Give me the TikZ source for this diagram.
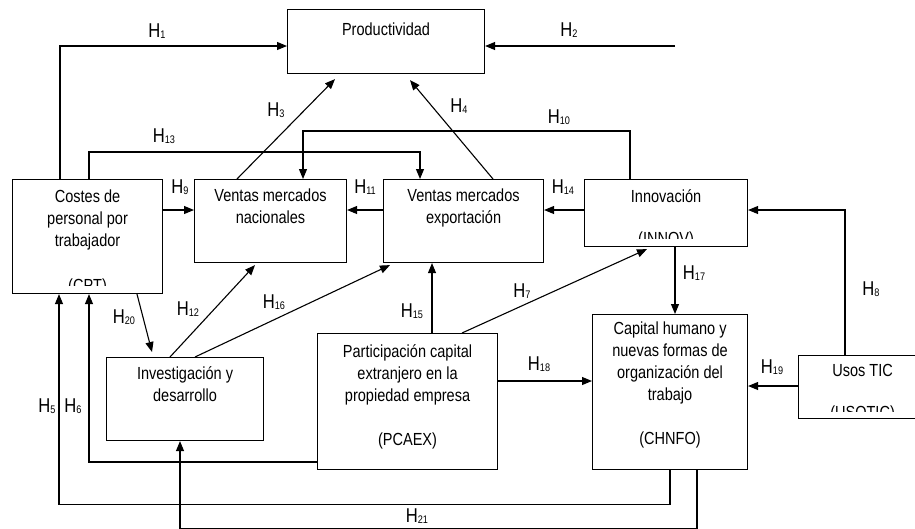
\documentclass[tikz,border=0pt]{standalone}
\usepackage{fontspec}
\setmainfont[FakeStretch=0.83]{Liberation Sans}
\usetikzlibrary{arrows.meta,calc}
\newcommand\Hlab[1]{H\raisebox{-1.5pt}{\fontsize{11}{11}\selectfont #1}}
\begin{document}
\begin{tikzpicture}[x=1pt,y=-1pt,
 box/.style={draw,line width=1.1pt,inner sep=0pt,anchor=north west},
 txt/.style={anchor=north,inner sep=0pt,align=center,font=\fontsize{17.5}{22}\selectfont},
 lab/.style={inner sep=0pt,font=\fontsize{20}{20}\selectfont},
 con/.style={line width=1.1pt},
 arr/.style={con,-{Triangle[length=10pt,width=8pt]}}]
\path[use as bounding box] (0,0) rectangle (915,528);
\clip (0,0) rectangle (915,528);
% boxes
\node[box,minimum width=197pt,minimum height=64pt] (prod) at (287,9) {};
\node[box,minimum width=150pt,minimum height=114pt] (cpt) at (12,179) {};
\node[box,minimum width=152pt,minimum height=83pt] (vn) at (194,179) {};
\node[box,minimum width=160pt,minimum height=83pt] (ve) at (383,179) {};
\node[box,minimum width=163pt,minimum height=67pt] (inn) at (584,179) {};
\node[box,minimum width=155pt,minimum height=155pt] (chn) at (592,314) {};
\node[box,minimum width=128pt,minimum height=63pt] (tic) at (798,355) {};
\node[box,minimum width=180pt,minimum height=136pt] (pca) at (317,333) {};
\node[box,minimum width=157pt,minimum height=83pt] (id) at (106,357) {};
% texts
\node[txt] (tprod) at ([yshift=-14pt]prod.north) {Productividad};
\node[txt] (tcpt) at ([yshift=-11pt]cpt.north) {Costes de\\personal por\\trabajador};
\begin{scope}
\clip (13,270) rectangle (161,285);
\node[txt] (tcpt2) at ([yshift=-100pt]cpt.north) {(CPT)};
\end{scope}
\node[txt] (tvn) at ([yshift=-10pt]vn.north) {Ventas mercados\\nacionales};
\node[txt] (tve) at ([yshift=-10pt]ve.north) {Ventas mercados\\exportación};
\node[txt] (tinn) at ([yshift=-10pt]inn.north) {Innovación};
\begin{scope}
\clip (585,225) rectangle (746,238);
\node[txt] (tinn2) at ([yshift=-53pt]inn.north) {(INNOV)};
\end{scope}
\node[txt] (tchn) at ([yshift=-8pt]chn.north) {Capital humano y\\nuevas formas de\\organización del\\trabajo\\[22pt](CHNFO)};
\node[txt] (tpca) at ([yshift=-11pt]pca.north) {Participación capital\\extranjero en la\\propiedad empresa\\[22pt](PCAEX)};
\node[txt] (tid) at ([yshift=-9pt]id.north) {Investigación y\\desarrollo};
\node[txt] (ttic) at ([yshift=-9pt]tic.north) {Usos TIC};
\begin{scope}
\clip (799,398) rectangle (915,411);
\node[txt] (ttic2) at ([yshift=-51pt]tic.north) {(USOTIC)};
\end{scope}
% connectors
\draw[arr] ([xshift=48pt]cpt.north west) |- ([yshift=-37pt]prod.north west);
\coordinate (h2s) at (675,46);
\draw[arr] (h2s) -- (h2s -| prod.east);
\draw[arr] ([xshift=77pt]cpt.north west) -- ++(0,-27) -| ([xshift=37pt]ve.north west);
\draw[arr] ([xshift=46pt]inn.north west) -- ++(0,-48) -| ([xshift=109pt]vn.north west);
\draw[arr] ([xshift=43pt]vn.north west) -- ([xshift=48pt,yshift=-5pt]prod.south west);
\draw[arr] ([xshift=110pt]ve.north west) -- ([xshift=123pt,yshift=-6pt]prod.south west);
\draw[arr] ([yshift=-31pt]cpt.north east) -- ([yshift=-31pt]vn.north west);
\draw[arr] ([yshift=-31pt]ve.north west) -- ([yshift=-31pt]vn.north east);
\draw[arr] ([yshift=-31pt]inn.north west) -- ([yshift=-31pt]ve.north east);
\draw[arr] ([xshift=47pt]tic.north west) |- ([yshift=-31pt]inn.north east);
\draw[arr] ([xshift=91pt]inn.south west) -- ([xshift=91pt]inn.south west |- chn.north);
\draw[arr] ([xshift=145pt]pca.north west) -- ([xshift=63pt,yshift=-2pt]inn.south west);
\draw[arr] ([xshift=115pt]pca.north west) -- ([xshift=115pt]pca.north west |- ve.south);
\draw[arr] ([yshift=-48pt]pca.north east) -- ([yshift=-48pt]pca.north east -| chn.west);
\draw[arr] ([yshift=-31pt]tic.north west) -- ([yshift=-31pt]tic.north west -| chn.east);
\draw[arr] ([xshift=64pt]id.north west) -- ([xshift=61pt,yshift=-2pt]vn.south west);
\draw[arr] ([xshift=89pt]id.north west) -- ([xshift=7pt,yshift=-2pt]ve.south west);
\draw[arr] ([xshift=125pt]cpt.south west) -- ([xshift=46pt,yshift=5pt]id.north west);
\draw[arr] ([xshift=78pt]chn.south west) -- ++(0,34) -| ([xshift=47pt]cpt.south west);
\draw[arr] ([yshift=-129pt]pca.north west) -| ([xshift=77pt]cpt.south west);
\draw[arr] ([xshift=105pt]chn.south west) -- ++(0,58) -| ([xshift=74pt]id.south west);
% labels
\node[lab] (l1) at (157,31) {\Hlab{1}};
\node[lab] (l2) at (569,30) {\Hlab{2}};
\node[lab] (l3) at (276,110) {\Hlab{3}};
\node[lab] (l4) at (459,106) {\Hlab{4}};
\node[lab] (l5) at (47,406) {\Hlab{5}};
\node[lab] (l6) at (73,406) {\Hlab{6}};
\node[lab] (l7) at (522,291) {\Hlab{7}};
\node[lab] (l8) at (871,289) {\Hlab{8}};
\node[lab] (l9) at (180,187) {\Hlab{9}};
\node[lab] (l10) at (559,117) {\Hlab{10}};
\node[lab] (l11) at (365,187) {\Hlab{11}};
\node[lab] (l12) at (188,309) {\Hlab{12}};
\node[lab] (l13) at (164,136) {\Hlab{13}};
\node[lab] (l14) at (563,187) {\Hlab{14}};
\node[lab] (l15) at (412,311) {\Hlab{15}};
\node[lab] (l16) at (274,302) {\Hlab{16}};
\node[lab] (l17) at (694,273) {\Hlab{17}};
\node[lab] (l18) at (539,364) {\Hlab{18}};
\node[lab] (l19) at (772,367) {\Hlab{19}};
\node[lab] (l20) at (124,317) {\Hlab{20}};
\node[lab] (l21) at (417,516) {\Hlab{21}};
\end{tikzpicture}
\end{document}
